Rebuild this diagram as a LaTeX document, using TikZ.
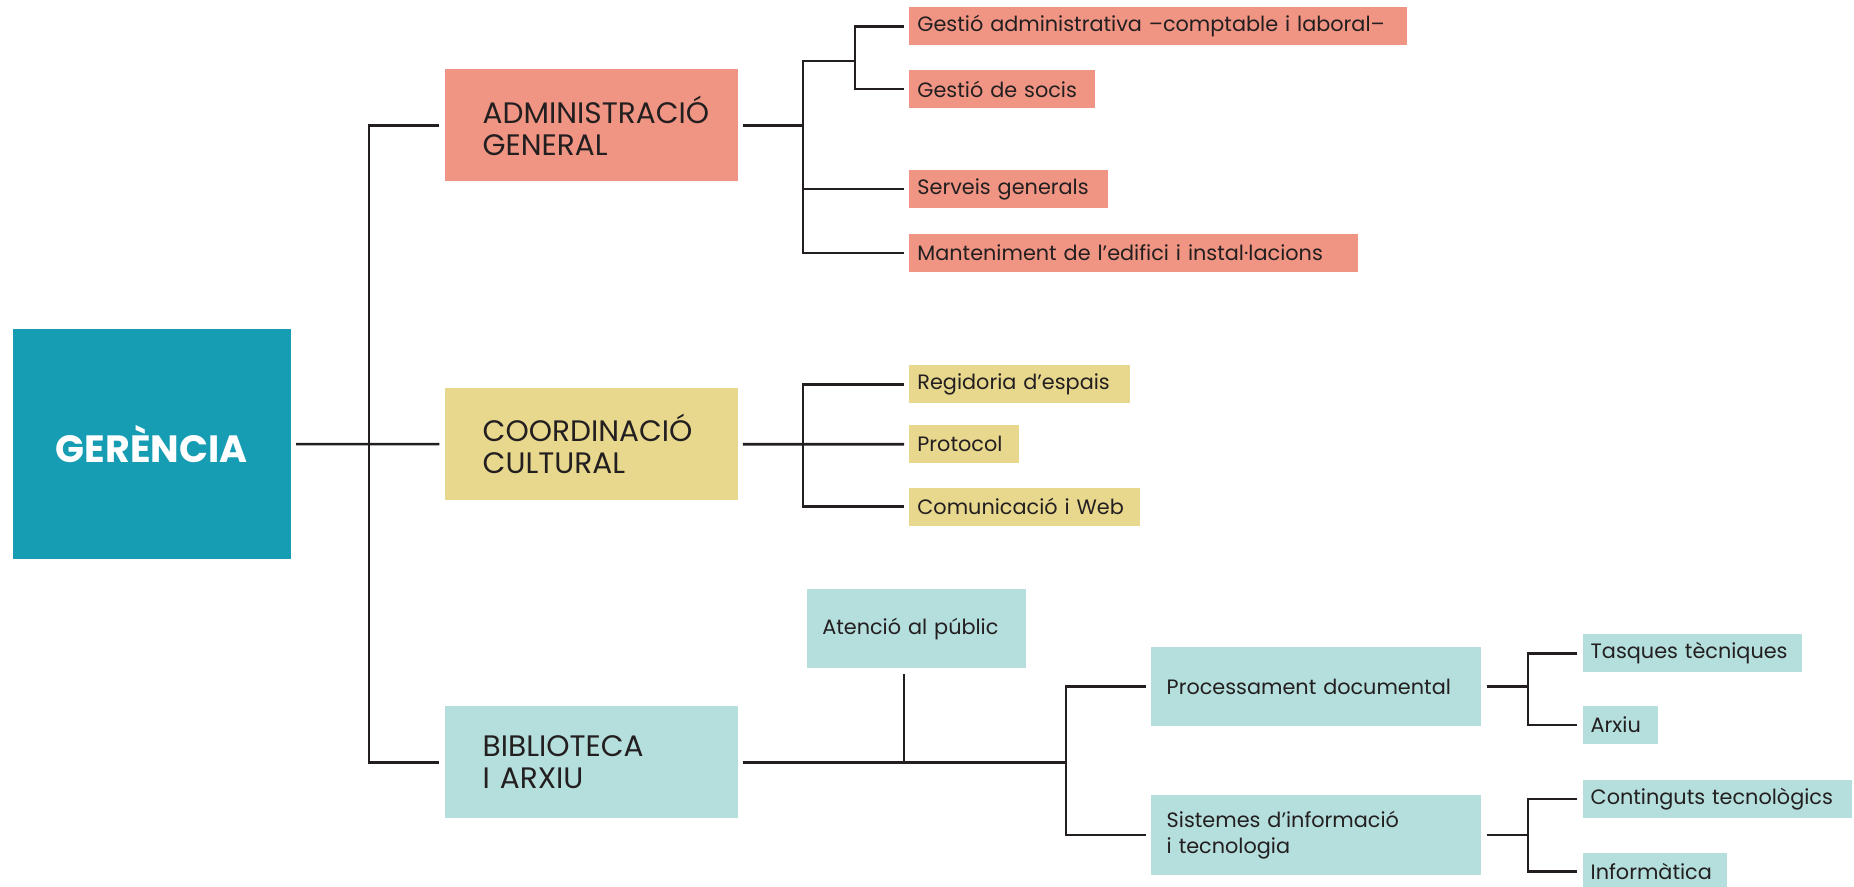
\documentclass[tikz,border=0pt]{standalone}
\usepackage{fontspec}
\setmainfont{Poppins}
\usepackage{tikz}
\usetikzlibrary{positioning}
\usepackage{xcolor}

\definecolor{gerencia}{HTML}{179DB3}
\definecolor{salmo}{HTML}{F09583}
\definecolor{groc}{HTML}{E8D88E}
\definecolor{aigua}{HTML}{B4DFDC}
\definecolor{tinta}{HTML}{231F20}

\begin{document}
\begin{tikzpicture}[x=0.5pt, y=-0.5pt,
    every node/.style={text=tinta, inner sep=0pt, outer sep=2.7pt},
    arrel/.style={fill=gerencia, text=white, minimum width=139pt, minimum height=114.7pt,
      font=\fontsize{19}{21}\selectfont\bfseries},
    area/.style={fill=#1, minimum width=146.4pt, minimum height=56pt, inner xsep=19pt,
      text width=108.4pt, align=left, font=\fontsize{14.8}{16}\selectfont},
    sub/.style={fill=aigua, minimum height=39.6pt, inner xsep=7.7pt, text width=149.6pt,
      align=left, font=\fontsize{10.4}{13}\selectfont},
    leaf/.style={anchor=west, minimum height=19pt, inner xsep=4pt, align=left,
      font=\fontsize{10.4}{13}\selectfont},
    line/.style={draw=tinta, line width=1.3pt}]
      \useasboundingbox (0,0) rectangle (1854,887);

      % Main boxes
      \node [arrel] (gerencia) at (151.7,444) {GERÈNCIA};
      \node [area=salmo] (admin) at (591.1,125.5) {ADMINISTRACIÓ\\GENERAL};
      \node [area=groc] (coord) at (591.1,444.2) {COORDINACIÓ\\CULTURAL};
      \node [area=aigua] (biblio) at (591.1,762.2) {BIBLIOTECA\\I ARXIU};

      % Leaves of each area
      \foreach \t/\w/\y [count=\i] in {Gestió administrativa –comptable i laboral–/241/26.5,
          Gestió de socis/85/89, Serveis generals/91.2/189,
          Manteniment de l’edifici i instal·lacions/216.4/253}
        \node [leaf, fill=salmo, text width=\w pt] (adm-\i) at (904,\y) {\t};

      \foreach \t/\w/\y [count=\i] in {Regidoria d’espais/102.2/384.4, Protocol/46.8/444.3,
          Comunicació i Web/107.5/506.7}
        \node [leaf, fill=groc, text width=\w pt] (cor-\i) at (904,\y) {\t};

      \node [sub, text width=94.3pt, minimum height=39.5pt] (atencio) at (916.6,628.8) {Atenció al públic};
      \node [sub] (proces) at (1316.3,686.5) {Processament documental};
      \node [sub] (sistemes) at (1316.3,835) {Sistemes d’informació\\i tecnologia};

      \foreach \t/\w/\y [count=\i] in {Tasques tècniques/101.4/653.3, Arxiu/29.6/725}
        \node [leaf, fill=aigua, text width=\w pt] (pro-\i) at (1577.3,\y) {\t};

      \foreach \t/\w/\y [count=\i] in {Continguts tecnològics/126.5/799, Informàtica/63.9/871.7}
        \node [leaf, fill=aigua, text width=\w pt] (sis-\i) at (1577.3,\y) {\t};

      % Junctions
      \coordinate (ger-j) at (369,444);
      \coordinate (adm-j) at (803,125.5);
      \coordinate (adm-k) at (855,61);
      \coordinate (cor-j) at (803,444.2);
      \coordinate (bib-j) at (904,762.2);
      \coordinate (bib-k) at (1066,762.2);
      \coordinate (pro-j) at (1528,686.5);
      \coordinate (sis-j) at (1528,835);

      % Draw the connecting lines
      \draw [line] (gerencia) -- (coord);
      \draw [line] (admin.west) -| (ger-j) |- (biblio.west);

      \draw [line] (admin) -- (adm-j);
      \draw [line] (adm-1.west) -| (adm-k);
      \draw [line] (adm-2.west) -| (adm-k);
      \draw [line] (adm-k) -- (adm-j |- adm-k) |- (adm-4.west);
      \draw [line] (adm-3.west) -- (adm-j |- adm-3);

      \draw [line] (coord) -- (cor-2);
      \draw [line] (cor-1.west) -| (cor-j) |- (cor-3.west);

      \draw [line] (biblio) -- (bib-k);
      \draw [line] (bib-j) -- (bib-j |- atencio.south);
      \draw [line] (proces.west) -| (bib-k) |- (sistemes.west);

      \draw [line] (proces) -- (pro-j);
      \draw [line] (pro-1.west) -| (pro-j) |- (pro-2.west);
      \draw [line] (sistemes) -- (sis-j);
      \draw [line] (sis-1.west) -| (sis-j) |- (sis-2.west);
    \end{tikzpicture}
\end{document}
